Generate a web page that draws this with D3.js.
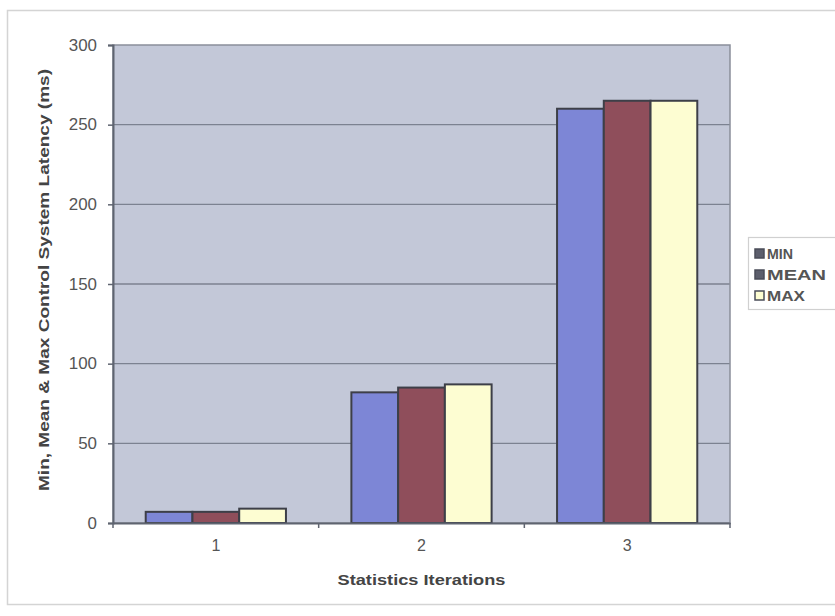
<!DOCTYPE html>
<html>
<head>
<meta charset="utf-8">
<script src="https://cdn.jsdelivr.net/npm/d3@7"></script>
<style>
  html, body { margin: 0; padding: 0; background: #ffffff; }
  svg { display: block; font-family: "Liberation Sans", Arial, sans-serif; }
</style>
</head>
<body>
<svg id="chart" width="835" height="616"></svg>
<script>
// Latency statistics per iteration (ms)
const categories = ["1", "2", "3"];
const seriesNames = ["MIN", "MEAN", "MAX"];
const minValues = [7, 82, 260];
const meanValues = [7, 85, 265];
const maxValues = [9, 87, 265];
const yTicks = [0, 50, 100, 150, 200, 250, 300];
const seriesColors = ["#7d86d6", "#8f4e5b", "#fdfdd2"];

const seriesValues = [minValues, meanValues, maxValues];
const rows = categories.map((c, i) => ({
  cat: c,
  vals: seriesNames.map((s, j) => ({ key: s, value: seriesValues[j][i], color: seriesColors[j] }))
}));

const svg = d3.select("#chart");

// outer chart frame
svg.append("rect")
  .attr("x", 7.5).attr("y", 10.5).attr("width", 840).attr("height", 594)
  .attr("fill", "none").attr("stroke", "#d4d4d4").attr("stroke-width", 1.5);

const plot = { left: 113, right: 730, top: 45, bottom: 523 };

const x0 = d3.scaleBand().domain(categories).range([plot.left, plot.right]).padding(0);
const x1 = d3.scaleBand().domain(seriesNames).range([0, x0.bandwidth()])
  .paddingInner(0).paddingOuter(0.7);
const y = d3.scaleLinear().domain([0, 300]).range([plot.bottom, plot.top]);

// plot background
svg.append("rect")
  .attr("x", plot.left).attr("y", plot.top)
  .attr("width", plot.right - plot.left).attr("height", plot.bottom - plot.top)
  .attr("fill", "#c3c8d8");

// horizontal gridlines
svg.append("g").selectAll("line")
  .data(yTicks.filter(t => t > 0 && t < 300))
  .join("line")
  .attr("x1", plot.left).attr("x2", plot.right)
  .attr("y1", d => y(d)).attr("y2", d => y(d))
  .attr("stroke", "#7c8291").attr("stroke-width", 1.3);

// plot frame
svg.append("rect")
  .attr("x", plot.left).attr("y", plot.top)
  .attr("width", plot.right - plot.left).attr("height", plot.bottom - plot.top)
  .attr("fill", "none").attr("stroke", "#8a8f9a").attr("stroke-width", 1.5);

// bars
const groups = svg.append("g").selectAll("g")
  .data(rows).join("g")
  .attr("transform", d => `translate(${x0(d.cat)},0)`);

groups.selectAll("rect")
  .data(d => d.vals).join("rect")
  .attr("x", d => x1(d.key))
  .attr("y", d => y(d.value))
  .attr("width", x1.bandwidth())
  .attr("height", d => y(0) - y(d.value))
  .attr("fill", d => d.color)
  .attr("stroke", "#3d3f48").attr("stroke-width", 2);

// y axis
const yAxis = d3.axisLeft(y).tickValues(yTicks).tickSize(5).tickPadding(11);
const yg = svg.append("g").attr("transform", `translate(${plot.left},0)`).call(yAxis);
yg.select(".domain").attr("stroke", "#5f6470").attr("stroke-width", 2);
yg.selectAll(".tick line").attr("stroke", "#5f6470").attr("stroke-width", 1.5);
yg.selectAll(".tick text").attr("fill", "#555").attr("font-size", 16)
  .attr("textLength", d => String(d).length * 9.4).attr("lengthAdjust", "spacingAndGlyphs");

// x axis
const xAxis = d3.axisBottom(x0).tickSize(0).tickPadding(17);
const xg = svg.append("g").attr("transform", `translate(0,${plot.bottom})`).call(xAxis);
xg.select(".domain").attr("stroke", "#5f6470").attr("stroke-width", 2);
xg.selectAll(".tick text").attr("fill", "#555").attr("font-size", 16);

// category separators below the x axis
svg.append("g").selectAll("line")
  .data(categories.map(c => x0(c)).concat([plot.right]))
  .join("line")
  .attr("x1", d => d).attr("x2", d => d)
  .attr("y1", plot.bottom).attr("y2", plot.bottom + 5)
  .attr("stroke", "#5f6470").attr("stroke-width", 1.5);

// axis titles
svg.append("text")
  .attr("x", (plot.left + plot.right) / 2).attr("y", 585)
  .attr("text-anchor", "middle")
  .attr("font-size", 15).attr("font-weight", "bold").attr("fill", "#444")
  .attr("textLength", 168).attr("lengthAdjust", "spacingAndGlyphs")
  .text("Statistics Iterations");

svg.append("text")
  .attr("transform", `translate(49,280) rotate(-90)`)
  .attr("text-anchor", "middle")
  .attr("font-size", 15).attr("font-weight", "bold").attr("fill", "#444")
  .attr("textLength", 422).attr("lengthAdjust", "spacingAndGlyphs")
  .text("Min, Mean & Max Control System Latency (ms)");

// legend
const legendWidths = { MIN: 26, MEAN: 59, MAX: 38 };
const legend = svg.append("g").attr("transform", "translate(748,237)");
legend.append("rect")
  .attr("x", 0.5).attr("y", 0.5).attr("width", 95).attr("height", 72)
  .attr("fill", "#fff").attr("stroke", "#d0d0d0").attr("stroke-width", 1.2);
const items = legend.selectAll("g.item")
  .data(seriesNames.map((s, j) => ({ key: s, color: seriesColors[j] })))
  .join("g").attr("class", "item")
  .attr("transform", (d, i) => `translate(7,${17 + i * 21})`);
items.append("rect")
  .attr("x", 0).attr("y", -5).attr("width", 9).attr("height", 9)
  .attr("fill", d => d.color === "#fdfdd2" ? "#fdfdd2" : "#5c5e6c")
  .attr("stroke", "#4a4c58").attr("stroke-width", 1.5);
items.append("text")
  .attr("x", 12).attr("y", 0).attr("dy", "0.36em")
  .attr("font-size", 14).attr("font-weight", "bold").attr("fill", "#555")
  .attr("textLength", d => legendWidths[d.key]).attr("lengthAdjust", "spacingAndGlyphs")
  .text(d => d.key);
</script>
</body>
</html>
